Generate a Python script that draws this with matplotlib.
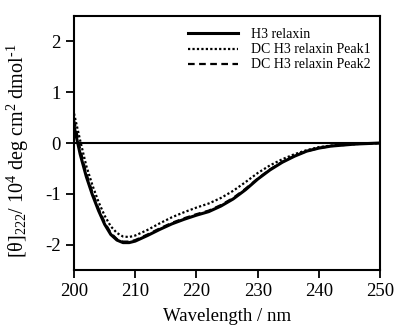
import matplotlib
matplotlib.use('Agg')
import matplotlib.pyplot as plt

plt.rcParams['font.family'] = 'Liberation Serif'
plt.rcParams['mathtext.fontset'] = 'custom'
plt.rcParams['mathtext.rm'] = 'Liberation Serif'
plt.rcParams['mathtext.it'] = 'Liberation Serif:italic'
plt.rcParams['axes.unicode_minus'] = False

wavelength = [200, 201, 202, 203, 204, 205, 206, 207, 208, 209, 210, 212, 214, 216, 218,
              220, 222, 224, 226, 228, 230, 232, 234, 236, 238, 240, 242, 244, 246, 248, 250]

h3_relaxin = [0.33, -0.22, -0.66, -1.02, -1.33, -1.60, -1.80, -1.91, -1.96, -1.96, -1.93,
              -1.82, -1.70, -1.59, -1.50, -1.42, -1.35, -1.24, -1.10, -0.92, -0.71, -0.53,
              -0.38, -0.26, -0.16, -0.10, -0.06, -0.04, -0.02, -0.01, 0.0]

dc_peak1 = [0.58, 0.05, -0.45, -0.83, -1.16, -1.43, -1.64, -1.77, -1.84, -1.85, -1.82,
            -1.71, -1.58, -1.46, -1.36, -1.27, -1.19, -1.08, -0.94, -0.77, -0.59, -0.44,
            -0.32, -0.22, -0.14, -0.08, -0.05, -0.03, -0.02, -0.01, 0.0]

dc_peak2 = [0.45, -0.12, -0.60, -0.97, -1.29, -1.56, -1.77, -1.89, -1.94, -1.94, -1.91,
            -1.80, -1.68, -1.57, -1.48, -1.40, -1.33, -1.22, -1.08, -0.90, -0.70, -0.52,
            -0.37, -0.25, -0.16, -0.10, -0.06, -0.04, -0.02, -0.01, 0.0]

fig = plt.figure(figsize=(3.96, 3.33), dpi=100)
ax = fig.add_axes([0.187, 0.189, 0.773, 0.763])

ax.axhline(0, color='black', lw=1.5)
ax.plot(wavelength, h3_relaxin, color='black', lw=2.2, label='H3 relaxin')
ax.plot(wavelength, dc_peak1, color='black', lw=1.6, ls=(0, (1, 1)), label='DC H3 relaxin Peak1')
ax.plot(wavelength, dc_peak2, color='black', lw=1.6, ls=(0, (3, 2)), label='DC H3 relaxin Peak2')

ax.set_xlim(200, 250)
ax.set_ylim(-2.5, 2.5)
ax.set_xticks([200, 210, 220, 230, 240, 250])
ax.set_yticks([-2, -1, 0, 1, 2])
ax.tick_params(direction='out', length=6, width=1.3, labelsize=13.5, top=False, right=False)
for s in ax.spines.values():
    s.set_linewidth(1.5)

ax.set_xlabel('Wavelength / nm', fontsize=13.5)
ax.xaxis.set_label_coords(0.5, -0.15)
ax.set_ylabel(r'[θ]$_{222}$/ 10$^{4}$ deg cm$^{2}$ dmol$^{\text{-1}}$', fontsize=14.5)
ax.yaxis.set_label_coords(-0.14, 0.468)

ax.legend(loc='upper left', bbox_to_anchor=(0.475, 0.915), bbox_transform=fig.transFigure,
          frameon=False, fontsize=10, handlelength=3.6, handletextpad=0.9,
          labelspacing=0.15, borderpad=0, borderaxespad=0)

fig.savefig('out.png', dpi=100)
